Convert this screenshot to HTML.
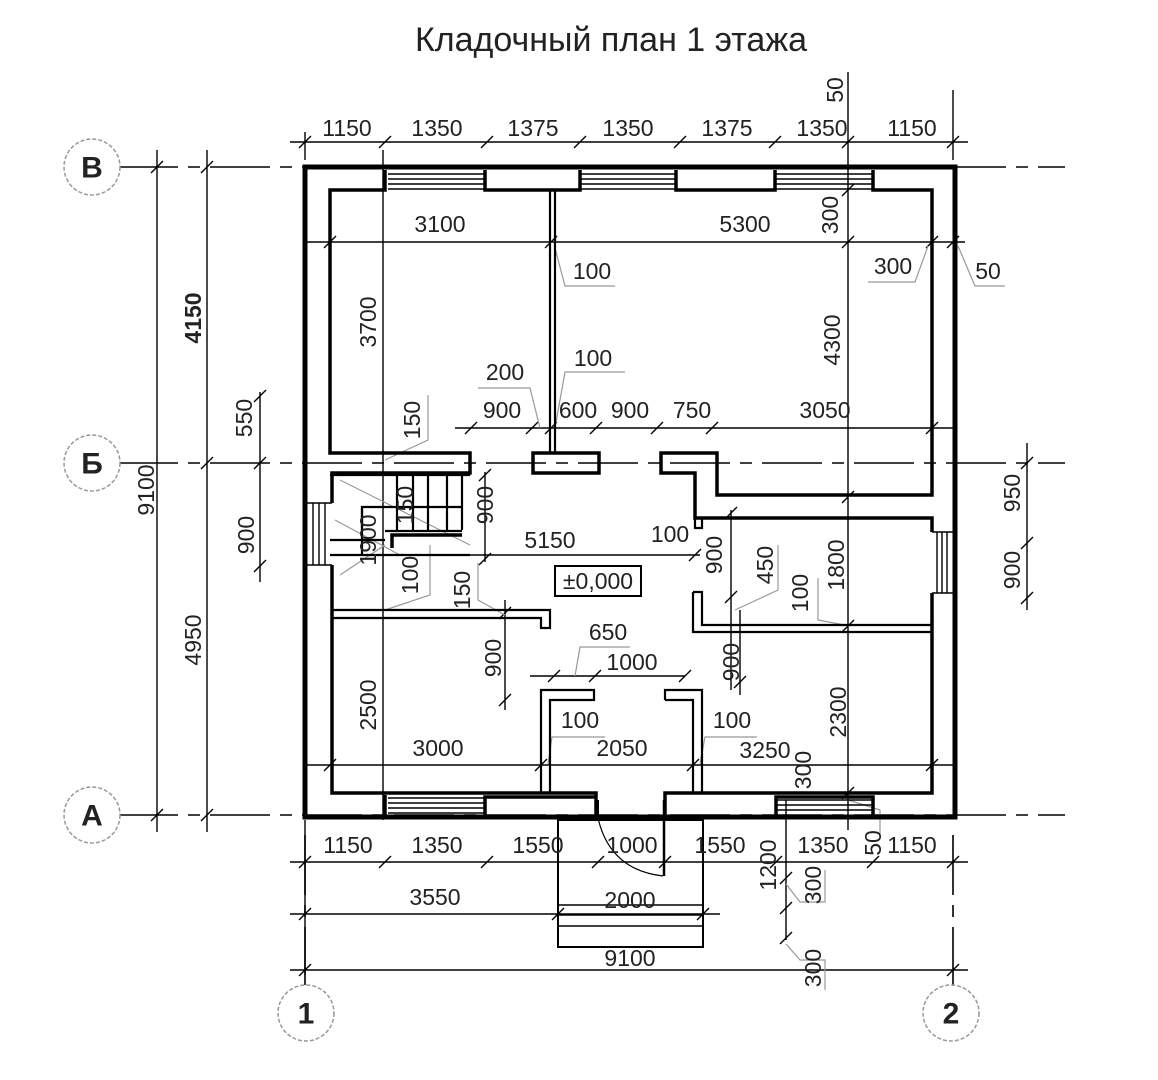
<!DOCTYPE html>
<html><head><meta charset="utf-8"><style>
html,body{margin:0;padding:0;background:#fff;}
svg{display:block;}
text{font-family:"Liberation Sans",Arial,sans-serif;font-size:23px;fill:#222;}
.r{text-anchor:middle;dominant-baseline:central;}
</style></head><body>
<svg width="1158" height="1080" viewBox="0 0 1158 1080" xmlns="http://www.w3.org/2000/svg">
<rect width="1158" height="1080" fill="#fff"/>
<text x="611" y="40" class="r" style="font-size:34px">Кладочный план 1 этажа</text>

<g stroke="#000" stroke-width="1.6" fill="none" stroke-dasharray="60,10,12,10">
<line x1="118" y1="167" x2="1065" y2="167"/>
<line x1="118" y1="463" x2="1065" y2="463"/>
<line x1="118" y1="815" x2="1065" y2="815"/>
<line x1="305" y1="835" x2="305" y2="985"/>
<line x1="953" y1="835" x2="953" y2="985"/>
</g>
<g fill="#fff" stroke="#999" stroke-width="1.5" stroke-dasharray="4,2">
<circle cx="92" cy="167" r="28"/><circle cx="92" cy="463" r="28"/><circle cx="92" cy="815" r="28"/>
<circle cx="306" cy="1013" r="28"/><circle cx="951" cy="1013" r="28"/>
</g>
<text x="92" y="168" class="r" style="font-size:30px;font-weight:bold">В</text>
<text x="92" y="464" class="r" style="font-size:30px;font-weight:bold">Б</text>
<text x="92" y="816" class="r" style="font-size:30px;font-weight:bold">А</text>
<text x="306" y="1014" class="r" style="font-size:30px;font-weight:bold">1</text>
<text x="951" y="1014" class="r" style="font-size:30px;font-weight:bold">2</text>

<g stroke="#000" stroke-width="1.4" fill="none">
<line x1="290" y1="142" x2="968" y2="142"/>
<line x1="305" y1="132" x2="305" y2="160"/>
<line x1="953" y1="90" x2="953" y2="160"/>
<line x1="848" y1="72" x2="848" y2="830"/>
<line x1="157" y1="150" x2="157" y2="832"/>
<line x1="207" y1="150" x2="207" y2="832"/>
<line x1="260" y1="392" x2="260" y2="582"/>
<line x1="1027" y1="443" x2="1027" y2="610"/>
<line x1="305" y1="242" x2="965" y2="242"/>
<line x1="383" y1="150" x2="383" y2="820"/>
<line x1="455" y1="428" x2="953" y2="428"/>
<line x1="330" y1="555" x2="700" y2="555"/>
<line x1="485" y1="472" x2="485" y2="562"/>
<line x1="505" y1="600" x2="505" y2="710"/>
<line x1="530" y1="676" x2="685" y2="676"/>
<line x1="731" y1="510" x2="731" y2="690"/>
<line x1="740" y1="610" x2="740" y2="695"/>
<line x1="305" y1="765" x2="953" y2="765"/>
<line x1="290" y1="862" x2="968" y2="862"/>
<line x1="290" y1="914" x2="720" y2="914"/>
<line x1="290" y1="970" x2="968" y2="970"/>
<line x1="786" y1="800" x2="786" y2="940"/>
<line x1="305" y1="820" x2="305" y2="975"/>
</g>
<g stroke="#000" stroke-width="1.4">
<path d="M299 148l12-12M379 148l12-12M481 148l12-12M574 148l12-12M674 148l12-12M769 148l12-12M842 148l12-12M947 148l12-12"/>
<path d="M151 173l12-12M201 173l12-12M201 469l12-12M151 821l12-12M201 821l12-12M254 469l12-12M254 402l12-12M254 572l12-12"/>
<path d="M299 868l12-12M379 868l12-12M481 868l12-12M592 868l12-12M659 868l12-12M770 868l12-12M867 868l12-12M947 868l12-12"/>
<path d="M299 920l12-12M552 920l12-12M697 920l12-12M299 976l12-12M947 976l12-12"/>
<path d="M324 248l12-12M545 248l12-12M926 248l12-12M947 248l12-12"/>
<path d="M465 434l12-12M526 434l12-12M545 434l12-12M590 434l12-12M651 434l12-12M706 434l12-12M926 434l12-12"/>
<path d="M324 771l12-12M535 771l12-12M687 771l12-12M926 771l12-12"/>
<path d="M842 196l12-12M842 248l12-12M842 503l12-12M842 632l12-12M842 799l12-12M1021 469l12-12M1021 549l12-12M1021 604l12-12"/>
<path d="M479 565l12-12M479 481l12-12M689 561l12-12M499 619l12-12M499 706l12-12M725 519l12-12M725 603l12-12M734 688l12-12M548 682l12-12M589 682l12-12M679 682l12-12M780 884l12-12M780 914l12-12M780 944l12-12"/>
</g>
<g stroke="#999" stroke-width="1.2" fill="none">
<polyline points="555,248 565,286 615,286"/>
<polyline points="555,428 565,372 625,372"/>
<polyline points="540,428 530,388 478,388"/>
<polyline points="928,246 915,282 868,282"/>
<polyline points="958,246 975,286 1005,286"/>
<polyline points="385,460 428,440 428,395"/>
<polyline points="385,610 430,595 430,545"/>
<polyline points="505,615 478,600 478,563"/>
<polyline points="735,610 778,590 778,545"/>
<polyline points="850,626 818,620 818,578"/>
<polyline points="548,764 552,737 605,737"/>
<polyline points="700,764 705,737 757,737"/>
<polyline points="575,676 580,647 630,647"/>
<polyline points="848,800 880,810 880,835"/>
<polyline points="786,884 800,902 825,902 825,870"/>
<polyline points="786,944 800,960 825,960 825,990"/>
<path d="M340,480L470,545M335,520L400,555M340,575L385,545" />
</g>

<g stroke="#000" fill="none" stroke-linejoin="miter">
<rect x="305" y="167" width="650" height="650" stroke-width="5"/>
<g stroke-width="3.5">
<polyline points="385,170 385,190 330,190 330,453 470,453 470,473 332,473 332,503"/>
<polyline points="332,565 332,793 596,793 596,815"/>
<polyline points="485,170 485,190 580,190 580,170"/>
<polyline points="676,170 676,190 775,190 775,170"/>
<polyline points="873,170 873,190 932,190 932,495 717,495 717,453 661,453 661,473 695,473 695,518 932,518 932,532"/>
<polyline points="932,593 932,793 665,793 665,815"/>
<rect x="533" y="453" width="66" height="20"/>
<polyline points="485,815 485,797 596,797"/>
<polyline points="776,815 776,797 873,797 873,815"/>
<polyline points="385,815 385,795"/>
<rect x="558" y="820" width="145" height="127" stroke-width="2"/>
</g>
<g stroke-width="2.2">
<line x1="550" y1="190" x2="550" y2="453"/><line x1="555" y1="190" x2="555" y2="453"/>
<polyline points="331,610 550,610 550,628 541,628 541,618 331,618"/>
<polyline points="541,793 541,690 594,690 594,700 550,700 550,793"/>
<polyline points="665,700 665,690 702,690 702,793"/>
<polyline points="665,700 693,700 693,793"/>
<polyline points="693,592 702,592 702,625 932,625"/>
<polyline points="693,592 693,632 932,632"/>
<polyline points="695,518 695,528 702,528 702,518"/>
<line x1="330" y1="475" x2="470" y2="475"/>
<path d="M397 475V530M413 475V530M428 475V530M447 475V530M462 475V530"/>
<polyline points="362,530 362,507 462,507"/>
<polyline points="385,531 462,531"/>
<polyline points="392,548 392,535 462,535" stroke-width="3.5"/>
<line x1="330" y1="540" x2="385" y2="540"/>
<line x1="330" y1="555" x2="470" y2="555"/>
<line x1="362" y1="507" x2="362" y2="555"/>
</g>
<g stroke-width="1.4">
<path d="M388 174H485M388 179H485M388 184H485M388 189H485"/>
<path d="M580 174H676M580 179H676M580 184H676M580 189H676"/>
<path d="M775 174H873M775 179H873M775 184H873M775 189H873"/>
<path d="M388 798H485M388 803H485M388 808H485M388 813H485"/>
<path d="M776 800H873M776 805H873M776 810H873"/>
<path d="M313 503V565M319 503V565M325 503V565M307 503H332M307 565H332"/>
<path d="M937 532V593M942 532V593M947 532V593M932 532H953M932 593H953"/>
<path d="M558 905H703M558 915H703M558 926H703"/>
</g>
<line x1="597" y1="800" x2="597" y2="816" stroke-width="4"/>
<line x1="664" y1="800" x2="664" y2="876" stroke-width="2.5"/>
<path d="M598 818 Q610 870 663 876" stroke-width="1.2"/>
</g>
<rect x="555" y="566" width="86" height="30" fill="none" stroke="#000" stroke-width="2"/>
<text x="598" y="581" class="r">±0,000</text>

<g>
<text x="347" y="128" class="r">1150</text><text x="437" y="128" class="r">1350</text><text x="533" y="128" class="r">1375</text>
<text x="628" y="128" class="r">1350</text><text x="727" y="128" class="r">1375</text><text x="822" y="128" class="r">1350</text><text x="912" y="128" class="r">1150</text>
<text x="440" y="224" class="r">3100</text><text x="745" y="224" class="r">5300</text>
<text x="893" y="266" class="r">300</text><text x="988" y="271" class="r">50</text>
<text x="592" y="271" class="r">100</text><text x="593" y="358" class="r">100</text><text x="505" y="372" class="r">200</text>
<text x="502" y="410" class="r">900</text><text x="578" y="410" class="r">600</text><text x="630" y="410" class="r">900</text>
<text x="692" y="410" class="r">750</text><text x="825" y="410" class="r">3050</text>
<text x="550" y="540" class="r">5150</text><text x="670" y="534" class="r">100</text>
<text x="608" y="632" class="r">650</text><text x="632" y="662" class="r">1000</text>
<text x="580" y="720" class="r">100</text><text x="732" y="720" class="r">100</text>
<text x="438" y="748" class="r">3000</text><text x="622" y="748" class="r">2050</text><text x="765" y="750" class="r">3250</text>
<text x="348" y="845" class="r">1150</text><text x="437" y="845" class="r">1350</text><text x="538" y="845" class="r">1550</text>
<text x="632" y="845" class="r">1000</text><text x="720" y="845" class="r">1550</text><text x="823" y="845" class="r">1350</text><text x="912" y="845" class="r">1150</text>
<text x="435" y="897" class="r">3550</text><text x="630" y="900" class="r">2000</text><text x="630" y="958" class="r">9100</text>
</g>
<g>
<text transform="translate(835,90) rotate(-90)" class="r">50</text>
<text transform="translate(830,215) rotate(-90)" class="r">300</text>
<text transform="translate(832,340) rotate(-90)" class="r">4300</text>
<text transform="translate(836,565) rotate(-90)" class="r">1800</text>
<text transform="translate(838,712) rotate(-90)" class="r">2300</text>
<text transform="translate(803,770) rotate(-90)" class="r">300</text>
<text transform="translate(368,322) rotate(-90)" class="r">3700</text>
<text transform="translate(193,318) rotate(-90)" class="r" style="font-weight:bold">4150</text>
<text transform="translate(244,418) rotate(-90)" class="r">550</text>
<text transform="translate(146,490) rotate(-90)" class="r">9100</text>
<text transform="translate(246,535) rotate(-90)" class="r">900</text>
<text transform="translate(193,640) rotate(-90)" class="r">4950</text>
<text transform="translate(412,420) rotate(-90)" class="r">150</text>
<text transform="translate(485,505) rotate(-90)" class="r">900</text>
<text transform="translate(405,505) rotate(-90)" class="r">150</text>
<text transform="translate(368,540) rotate(-90)" class="r">1900</text>
<text transform="translate(410,575) rotate(-90)" class="r">100</text>
<text transform="translate(462,590) rotate(-90)" class="r">150</text>
<text transform="translate(714,555) rotate(-90)" class="r">900</text>
<text transform="translate(765,565) rotate(-90)" class="r">450</text>
<text transform="translate(800,593) rotate(-90)" class="r">100</text>
<text transform="translate(1012,493) rotate(-90)" class="r">950</text>
<text transform="translate(1012,570) rotate(-90)" class="r">900</text>
<text transform="translate(493,658) rotate(-90)" class="r">900</text>
<text transform="translate(731,662) rotate(-90)" class="r">900</text>
<text transform="translate(368,705) rotate(-90)" class="r">2500</text>
<text transform="translate(768,865) rotate(-90)" class="r">1200</text>
<text transform="translate(873,843) rotate(-90)" class="r">50</text>
<text transform="translate(813,885) rotate(-90)" class="r">300</text>
<text transform="translate(813,968) rotate(-90)" class="r">300</text>
</g>
</svg>
</body></html>
